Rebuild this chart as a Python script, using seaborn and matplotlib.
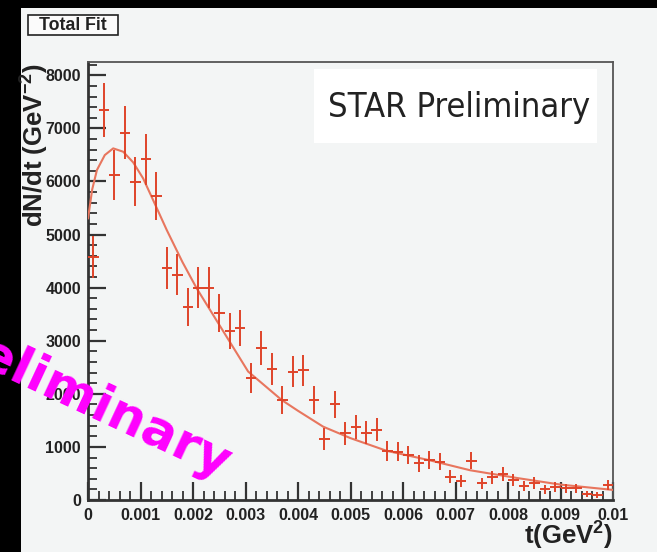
import numpy as np
import pandas as pd
import matplotlib
matplotlib.use("Agg")
import matplotlib.pyplot as plt
import seaborn as sns
from matplotlib.patches import Rectangle
from matplotlib.ticker import MultipleLocator
from matplotlib import font_manager as fm

# ---------------- data ----------------
t_centers = [0.0001, 0.0003, 0.0005, 0.0007, 0.0009, 0.0011, 0.0013, 0.0015, 0.0017, 0.0019,
             0.0021, 0.0023, 0.0025, 0.0027, 0.0029, 0.0031, 0.0033, 0.0035, 0.0037, 0.0039,
             0.0041, 0.0043, 0.0045, 0.0047, 0.0049, 0.0051, 0.0053, 0.0055, 0.0057, 0.0059,
             0.0061, 0.0063, 0.0065, 0.0067, 0.0069, 0.0071, 0.0073, 0.0075, 0.0077, 0.0079,
             0.0081, 0.0083, 0.0085, 0.0087, 0.0089, 0.0091, 0.0093, 0.0095, 0.0097, 0.0099]
dndt = [4580, 7345, 6120, 6917, 5995, 6416, 5725, 4370, 4245, 3640,
        4000, 4000, 3516, 3183, 3233, 2292, 2860, 2461, 1880, 2416,
        2440, 1880, 1146, 1805, 1256, 1381, 1268, 1325, 926, 910,
        847, 690, 753, 722, 439, 364, 740, 314, 427, 490,
        377, 264, 326, 201, 239, 220, 220, 113, 94, 282]
dndt_err = [400, 510, 470, 500, 465, 480, 455, 395, 390, 360,
            380, 380, 355, 340, 340, 285, 320, 300, 260, 295,
            295, 260, 205, 255, 215, 225, 215, 220, 185, 180,
            175, 160, 165, 160, 125, 115, 165, 105, 125, 135,
            115, 95, 110, 85, 95, 90, 90, 65, 60, 100]
bin_halfwidth = [0.0001] * len(t_centers)

fit_t = [0.0, 0.00008, 0.00017, 0.00032, 0.00048, 0.00067, 0.00086, 0.00105, 0.00124, 0.0015,
         0.0018, 0.00207, 0.0025, 0.00305, 0.00369, 0.004, 0.00448, 0.005, 0.00569, 0.0065,
         0.00728, 0.0082, 0.009, 0.0100]
fit_v = [5300, 5850, 6215, 6497, 6623, 6560, 6360, 6058, 5650, 5085,
         4480, 3987, 3300, 2420, 1883, 1680, 1381, 1165, 926, 750,
         560, 410, 290, 190]

x_ticks = [0, 0.001, 0.002, 0.003, 0.004, 0.005, 0.006, 0.007, 0.008, 0.009, 0.01]
x_tick_labels = ["0", "0.001", "0.002", "0.003", "0.004", "0.005", "0.006", "0.007",
                 "0.008", "0.009", "0.01"]
y_ticks = [0, 1000, 2000, 3000, 4000, 5000, 6000, 7000, 8000]
y_tick_labels = ["0", "1000", "2000", "3000", "4000", "5000", "6000", "7000", "8000"]

pts = pd.DataFrame({"t": t_centers, "v": dndt, "err": dndt_err, "xerr": bin_halfwidth})
fit = pd.DataFrame({"t": fit_t, "v": fit_v})

# ---------------- style ----------------
sns.set_theme(style="ticks")
BG = "#f3f5f5"
plt.rcParams.update({
    "font.family": ["Liberation Sans", "DejaVu Sans"],
    "mathtext.fontset": "custom",
    "mathtext.rm": "Liberation Sans:bold",
    "mathtext.bf": "Liberation Sans:bold",
    "mathtext.it": "Liberation Sans:bold",
    "figure.facecolor": BG,
    "axes.facecolor": BG,
})

# pick a condensed / narrow regular face for the "STAR Preliminary" label if available
narrow_file = None
for f in fm.fontManager.ttflist:
    nm = f.name.lower()
    stretch = str(f.stretch).lower()
    if f.style != "normal":
        continue
    w = f.weight if isinstance(f.weight, int) else {"normal": 400, "regular": 400}.get(str(f.weight), 700)
    if w > 450:
        continue
    if "narrow" in nm or "condensed" in nm or "condensed" in stretch or stretch in ("500", "600", "700"):
        if "semi" in nm or "extra" in nm or "mono" in nm or "serif" in nm:
            continue
        narrow_file = f.fname
        break
if narrow_file is not None:
    star_font = fm.FontProperties(fname=narrow_file)
else:
    star_font = fm.FontProperties(family=["Liberation Sans", "DejaVu Sans"])

W, H = 657, 552
fig = plt.figure(figsize=(W / 100, H / 100), dpi=100)
L, R, T, B = 88, 613, 62, 500
ax = fig.add_axes([L / W, 1 - B / H, (R - L) / W, (B - T) / H])

DATA_C = "#df4429"
FIT_C = "#e8765e"

# white label box behind "STAR Preliminary"
ax.add_patch(Rectangle((0.43, 0.815), 0.54, 0.17, transform=ax.transAxes,
                       facecolor="white", edgecolor="none", zorder=1))

sns.lineplot(data=fit, x="t", y="v", ax=ax, color=FIT_C, linewidth=1.5, zorder=3)
ax.errorbar(pts["t"], pts["v"], yerr=pts["err"], xerr=pts["xerr"], fmt="none",
            ecolor=DATA_C, elinewidth=1.4, capsize=0, zorder=4)

ax.set_xlim(0, 0.01)
ax.set_ylim(0, 8250)
ax.set_xticks(x_ticks)
ax.set_xticklabels(x_tick_labels)
ax.set_yticks(y_ticks)
ax.set_yticklabels(y_tick_labels)
ax.xaxis.set_minor_locator(MultipleLocator(0.0002))
ax.yaxis.set_minor_locator(MultipleLocator(200))
ax.tick_params(axis="both", which="major", direction="in", length=13, width=1.6,
               color="#333333", labelsize=11.5, pad=5)
ax.tick_params(axis="both", which="minor", direction="in", length=6.5, width=1.3,
               color="#333333")
ax.tick_params(axis="x", which="major", pad=6)
for lab in ax.get_xticklabels() + ax.get_yticklabels():
    lab.set_fontweight("bold")
    lab.set_color("#222222")
ax.set_xlabel("")
ax.set_ylabel("")

for side in ["left", "bottom"]:
    ax.spines[side].set_color("#333333")
    ax.spines[side].set_linewidth(2.0)
for side in ["top", "right"]:
    ax.spines[side].set_color("#555555")
    ax.spines[side].set_linewidth(1.3)

star = fig.text(328 / W, 1 - 117 / H, "STAR Preliminary", ha="left", va="baseline",
                fontproperties=star_font, fontsize=29, color="#222222", zorder=5)
# fit the label width to the reference (~262 px)
fig.canvas.draw()
wpx = star.get_window_extent().width
star.set_fontsize(29 * 262.0 / wpx)

# axis titles (ROOT style)
fig.text(35 / W, 1 - 63 / H, r"dN/dt (GeV$^{-2}$)", rotation=90, ha="center", va="top",
         fontsize=18.5, fontweight="bold", color="#222222")
fig.text(613 / W, 1 - 545 / H, r"t(GeV$^{2}$)", ha="right", va="baseline",
         fontsize=18.5, fontweight="bold", color="#222222")

# "Total Fit" box
fig.patches.append(Rectangle((28 / W, 1 - 35 / H), 90 / W, 20 / H, transform=fig.transFigure,
                             facecolor="#fbfbfb", edgecolor="#222222", linewidth=1.2))
fig.text(73 / W, 1 - 25.5 / H, "Total Fit", ha="center", va="center", fontsize=12.8,
         fontweight="bold", color="#222222")

# black border strips
fig.patches.append(Rectangle((0, 0), 21 / W, 1, transform=fig.transFigure,
                             facecolor="black", edgecolor="none", zorder=0))
fig.patches.append(Rectangle((0, 1 - 8 / H), 1, 8 / H, transform=fig.transFigure,
                             facecolor="black", edgecolor="none", zorder=0))

# magenta watermark (partly off the left edge)
fig.text(222 / W, 1 - 481 / H, "Preliminary", rotation=-25, rotation_mode="anchor",
         ha="right", va="baseline", fontsize=37, fontweight="bold", color="#ff00ff",
         family=["DejaVu Sans"], zorder=10)

fig.savefig("out.png", dpi=100, facecolor=BG)
